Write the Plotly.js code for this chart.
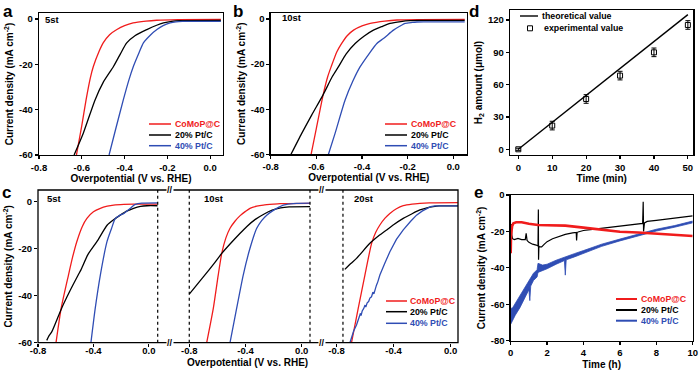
<!DOCTYPE html>
<html><head><meta charset="utf-8">
<script src="https://cdn.plot.ly/plotly-3.0.1.min.js"></script>
<style>html,body{margin:0;padding:0;background:#fff}#chart{width:700px;height:370px}</style>
</head><body><div id="chart"></div>
<script>
// ---------------- DATA ----------------
// Panel a (5st)
const aV_red = [-0.625,-0.60,-0.58,-0.56,-0.546,-0.52,-0.50,-0.47,-0.436,-0.40,-0.36,-0.30,-0.25,-0.15,0.05];
const aJ_red = [-60,-47,-35.7,-26,-21,-14.5,-10.6,-7,-4.7,-3,-1.8,-1.0,-0.6,-0.3,-0.2];
const aV_blk = [-0.636,-0.593,-0.538,-0.50,-0.452,-0.42,-0.39,-0.35,-0.296,-0.25,-0.218,-0.18,-0.14,0.05];
const aJ_blk = [-60,-50.4,-35.7,-28,-21,-15.5,-10.6,-7.3,-4.7,-2.8,-1.8,-1.1,-0.8,-0.7];
const aV_blu = [-0.4725,-0.44,-0.406,-0.38,-0.359,-0.335,-0.312,-0.28,-0.249,-0.22,-0.187,-0.16,-0.13,0.05];
const aJ_blu = [-60,-48,-35.7,-27,-21,-15.5,-10.6,-7.2,-4.7,-3,-1.8,-1.3,-1.1,-1.1];
// Panel b (10st)
const bV_red = [-0.623,-0.60,-0.57,-0.55,-0.535,-0.51,-0.489,-0.465,-0.437,-0.40,-0.364,-0.30,-0.247,-0.15,0.05];
const bJ_red = [-60,-48.5,-33.5,-25.5,-21.1,-14.5,-10.8,-7.4,-4.9,-3.0,-1.9,-0.9,-0.4,-0.2,-0.1];
const bV_blk = [-0.711,-0.664,-0.62,-0.57,-0.53,-0.503,-0.47,-0.43,-0.39,-0.35,-0.31,-0.277,-0.23,-0.189,-0.15,0.05];
const bJ_blk = [-60,-50.7,-42.5,-33.5,-25.5,-21.1,-15.5,-10.8,-7.5,-4.9,-3.2,-1.9,-1.1,-0.7,-0.6,-0.6];
const bV_blu = [-0.547,-0.518,-0.474,-0.44,-0.408,-0.37,-0.335,-0.306,-0.262,-0.235,-0.211,-0.18,-0.16,-0.13,0.05];
const bJ_blu = [-60,-50.7,-35.9,-27.5,-21.1,-15.5,-10.8,-8.6,-4.9,-3.2,-1.9,-1.5,-1.3,-1.2,-1.2];
// Panel c, segment 5st
const c1V_red = [-0.670,-0.633,-0.58,-0.55,-0.52,-0.48,-0.447,-0.40,-0.35,-0.30,-0.254,-0.18,-0.11,0.064];
const c1J_red = [-60,-45.4,-31.2,-23.5,-17,-10.5,-7.1,-4.3,-2.8,-1.9,-1.4,-1.1,-1.0,-1.0];
const c1V_blk = [-0.737,-0.72,-0.70,-0.63,-0.57,-0.51,-0.49,-0.44,-0.375,-0.30,-0.25,-0.206,-0.16,-0.11,-0.06,-0.013,0.064];
const c1J_blk = [-59,-57,-55.3,-45.4,-38,-31.2,-29,-22.5,-17,-9.9,-7.5,-5.7,-4.0,-2.8,-2.0,-1.7,-1.7];
const c1V_blu = [-0.418,-0.387,-0.35,-0.302,-0.27,-0.242,-0.21,-0.18,-0.155,-0.133,-0.115,-0.097,-0.05,0.064];
const c1J_blu = [-60,-45.4,-31.2,-17,-11.5,-7.1,-5.8,-5.0,-3.8,-2.8,-1.8,-1.1,-0.6,-0.5];
// Panel c, segment 10st
const c2V_red = [-0.676,-0.629,-0.594,-0.569,-0.54,-0.51,-0.475,-0.438,-0.40,-0.368,-0.32,-0.273,-0.20,-0.154,0.059];
const c2J_red = [-60,-45.4,-31.2,-22,-15.5,-11.3,-8.3,-5.9,-4.1,-2.8,-1.9,-1.4,-1.0,-0.8,-0.7];
const c2V_blk = [-0.8,-0.70,-0.62,-0.569,-0.51,-0.44,-0.39,-0.33,-0.27,-0.21,-0.15,-0.09,0.059];
const c2J_blk = [-39.3,-32,-26,-22,-18,-13.5,-10.5,-7.5,-5.3,-3.6,-2.6,-2.2,-2.1];
const c2V_blu = [-0.51,-0.463,-0.416,-0.368,-0.32,-0.285,-0.249,-0.21,-0.178,-0.131,-0.08,-0.036,0.059];
const c2J_blu = [-60,-45.4,-31.2,-19.8,-11.3,-8,-5.7,-4,-2.8,-1.4,-0.9,-0.7,-0.6];
// Panel c, segment 20st
const c3V_red = [-0.695,-0.648,-0.601,-0.554,-0.525,-0.496,-0.46,-0.426,-0.38,-0.332,-0.27,-0.215,-0.15,0.051];
const c3J_red = [-60,-45.4,-31.2,-17.7,-13,-9.9,-7,-4.96,-3.0,-1.7,-1.0,-0.7,-0.5,-0.4];
const c3V_blk = [-0.742,-0.70,-0.66,-0.566,-0.50,-0.449,-0.40,-0.332,-0.27,-0.215,-0.16,-0.122,-0.08,0.051];
const c3J_blk = [-28.8,-26.3,-24.1,-17.7,-14.3,-12,-9.8,-7.1,-5.1,-3.5,-2.5,-2.1,-1.8,-1.8];
const c3V_blu = [-0.706,-0.68,-0.66,-0.645,-0.632,-0.628,-0.62,-0.61,-0.60,-0.595,-0.585,-0.575,-0.566,-0.555,-0.545,-0.538,-0.53,-0.52,-0.51,-0.496,-0.46,-0.426,-0.38,-0.332,-0.28,-0.239,-0.20,-0.168,-0.14,-0.11,-0.06,0.051];
const c3J_blu = [-60,-55,-52.5,-50,-47.5,-48.5,-46.5,-45.5,-44,-44.8,-43,-42.5,-41,-40.5,-38.5,-39.2,-37,-35.5,-34,-31.2,-26,-21.3,-16,-12,-8.3,-5.7,-4.0,-2.8,-2.1,-1.8,-1.8,-1.8];
// Panel d
const dT_theo = [0,50];
const dH_theo = [0,125];
const dT_exp = [0,10,20,30,40,50];
const dH_exp = [0,22,46.7,68.4,90,115.4];
const dErr = [1,4,4,4,4,4];
// Panel e
const eT_red = [0,0.02,0.08,0.15,0.3,0.6,1.0,1.5,2,3,4,5,5.8,6,7,8,9,10];
const eJ_red = [-32,-22,-17,-15.5,-15,-15,-15.8,-16.5,-16.6,-16.8,-17.9,-18.9,-19.6,-20.2,-20.6,-21.3,-22,-22.5];
const eT_blk = [0,0.03,0.06,0.1,0.2,0.4,0.6,0.8,0.85,0.9,1.0,1.2,1.4,1.5,1.52,1.53,1.55,1.58,1.7,1.85,2.0,2.3,2.6,3.0,3.4,3.6,3.62,3.65,3.7,4.0,4.5,5,5.5,6,6.5,7,7.25,7.28,7.3,7.35,7.5,8,8.5,9,9.5,10];
const eJ_blk = [-20,-16,-22,-24,-24.5,-23.8,-24.5,-24.5,-21,-25,-26,-27,-27.5,-28,-8,-35.5,-28,-28.5,-28.5,-27,-25.6,-24,-22.8,-21.6,-20.8,-20.5,-25,-20.4,-20.3,-19.5,-18.9,-18.3,-17.9,-17.4,-16.8,-16.1,-15.6,-3.7,-20,-15.3,-14.5,-13.9,-13.4,-12.9,-12.3,-11.5];
const eT_blu = [0,0.05,0.1,0.25,0.5,0.75,1.0,1.05,1.1,1.25,1.45,1.5,1.75,2.0,2.5,2.95,3.0,3.05,3.5,4,5,6,7,8,9,10];
const eJ_bluHi = [-63,-62,-62,-59.5,-56,-51.5,-47,-46.5,-46,-43,-41,-37.5,-38.5,-38,-35.8,-34,-33.8,-33.6,-32.2,-30.5,-27,-24.2,-21.5,-18.8,-16.8,-14.3];
const eJ_bluLo = [-71,-70,-69,-66,-62,-57,-52,-58,-50,-47,-45,-42.5,-41.5,-40.5,-38,-36,-44,-35.6,-34,-32,-28.2,-25.2,-22.5,-19.8,-17.7,-15.3];
// Tick labels
const vTicks6 = [-0.8,-0.6,-0.4,-0.2,0.0];
const vLabels6 = ['-0.8','-0.6','-0.4','-0.2','0.0'];
const vTicks3 = [-0.8,-0.4,0.0];
const vLabels3 = ['-0.8','-0.4','0.0'];
const jTicks = [0,-20,-40,-60];
const jLabels = ['0','-20','-40','-60'];
const dXTicks = [0,10,20,30,40,50];
const dYTicks = [0,30,60,90,120];
const eXTicks = [0,2,4,6,8,10];
const eYTicks = [0,-20,-40,-60,-80];
const eYLabels = ['0','-20','-40','-60','-80'];
const seriesNames = ['CoMoP@C','20% Pt/C','40% Pt/C'];
const dNames = ['theoretical value','experimental value'];

// ---------------- STYLE ----------------
const FONT = 'Liberation Sans, Arial, sans-serif';
const RED = '#f01c1c', BLK = '#000000', BLU = '#2f4db4';
const COLORS = [RED, BLK, BLU];
const W = 700, H = 370;
const X = p => p / W;
const Y = p => 1 - p / H;
const TF = {family: FONT, size: 9.5, color: '#000', weight: 'bold'};
const TITLEF = {family: FONT, size: 10, color: '#000', weight: 'bold'};

function axis(o) {
  const base = {
    showline: true, mirror: true, linecolor: '#000', linewidth: 1.3,
    ticks: 'outside', ticklen: 3, tickwidth: 1.2, tickcolor: '#000',
    showgrid: false, zeroline: false, tickfont: TF, fixedrange: true,
    minor: {ticks: 'outside', ticklen: 2, tickwidth: 1, tickcolor: '#000'}
  };
  const r = Object.assign(base, o);
  if (o.minor) r.minor = Object.assign(base.minor, o.minor);
  return r;
}
function ln(x, y, xa, ya, color, width, smooth) {
  const line = {color: color, width: width || 1.3};
  if (smooth) { line.shape = 'spline'; line.smoothing = smooth; }
  return {x: x, y: y, xaxis: xa, yaxis: ya, type: 'scatter', mode: 'lines', line: line, hoverinfo: 'skip'};
}
const S = 0.6;

const traces = [
  ln(aV_red, aJ_red, 'x', 'y', RED, 1.3, S), ln(aV_blk, aJ_blk, 'x', 'y', BLK, 1.3, S), ln(aV_blu, aJ_blu, 'x', 'y', BLU, 1.3, S),
  ln(bV_red, bJ_red, 'x2', 'y2', RED, 1.3, S), ln(bV_blk, bJ_blk, 'x2', 'y2', BLK, 1.3, S), ln(bV_blu, bJ_blu, 'x2', 'y2', BLU, 1.3, S),
  ln(c1V_red, c1J_red, 'x3', 'y3', RED, 1.3, S), ln(c1V_blk, c1J_blk, 'x3', 'y3', BLK, 1.3, S), ln(c1V_blu, c1J_blu, 'x3', 'y3', BLU, 1.3, S),
  ln(c2V_red, c2J_red, 'x4', 'y4', RED, 1.3, S), ln(c2V_blk, c2J_blk, 'x4', 'y4', BLK, 1.3, S), ln(c2V_blu, c2J_blu, 'x4', 'y4', BLU, 1.3, S),
  ln(c3V_red, c3J_red, 'x5', 'y5', RED, 1.3, S), ln(c3V_blk, c3J_blk, 'x5', 'y5', BLK, 1.3, S), ln(c3V_blu, c3J_blu, 'x5', 'y5', BLU, 1.3),
  ln(dT_theo, dH_theo, 'x6', 'y6', BLK, 1.4),
  {x: dT_exp, y: dH_exp, xaxis: 'x6', yaxis: 'y6', type: 'scatter', mode: 'markers',
   marker: {symbol: 'square-open', size: 5, color: '#000', line: {width: 1, color: '#000'}},
   error_y: {type: 'data', array: dErr, visible: true, color: '#000', thickness: 1, width: 2.5}, hoverinfo: 'skip'},
  ln(eT_blu, eJ_bluLo, 'x7', 'y7', BLU, 0.8),
  Object.assign(ln(eT_blu, eJ_bluHi, 'x7', 'y7', BLU, 0.8), {fill: 'tonexty', fillcolor: BLU}),
  ln(eT_blk, eJ_blk, 'x7', 'y7', BLK, 1.2),
  ln(eT_red, eJ_red, 'x7', 'y7', RED, 2.6)
];

const jTitle = 'Current density (mA cm<sup>-2</sup>)';
const yC = [Y(342.7), Y(190)];

const layout = {
  width: W, height: H, margin: {l: 0, r: 0, t: 0, b: 0},
  paper_bgcolor: '#fff', plot_bgcolor: '#fff', showlegend: false,
  font: {family: FONT, color: '#000'},
  // a
  xaxis: axis({domain: [X(39), X(223)], range: [-0.8, 0.06], anchor: 'y',
    tickmode: 'array', tickvals: vTicks6, ticktext: vLabels6, minor: {dtick: 0.1, tick0: 0},
    title: {text: 'Overpotential (V vs. RHE)', font: TITLEF, standoff: 3}}),
  yaxis: axis({domain: [Y(155), Y(13)], range: [-60, 2.6], anchor: 'x',
    tickmode: 'array', tickvals: jTicks, ticktext: jLabels, minor: {dtick: 10, tick0: 0},
    title: {text: jTitle, font: TITLEF, standoff: 3}}),
  // b
  xaxis2: axis({domain: [X(270.7), X(467)], range: [-0.8, 0.06], anchor: 'y2',
    tickmode: 'array', tickvals: vTicks6, ticktext: vLabels6, minor: {dtick: 0.1, tick0: 0},
    title: {text: 'Overpotential (V vs. RHE)', font: TITLEF, standoff: 3}}),
  yaxis2: axis({domain: [Y(154.3), Y(13)], range: [-60, 2.7], anchor: 'x2',
    tickmode: 'array', tickvals: jTicks, ticktext: jLabels, minor: {dtick: 10, tick0: 0},
    title: {text: jTitle, font: TITLEF, standoff: 3}}),
  // c (broken axis: three segments)
  xaxis3: axis({domain: [X(38), X(157.7)], range: [-0.8, 0.064], anchor: 'y3', showline: false, mirror: false,
    ticklabelstandoff: -4,
    tickmode: 'array', tickvals: vTicks3, ticktext: vLabels3, minor: {dtick: 0.2, tick0: 0}}),
  xaxis4: axis({domain: [X(171), X(310)], range: [-0.93, 0.059], anchor: 'y4', showline: false, mirror: false,
    ticklabelstandoff: -4,
    tickmode: 'array', tickvals: vTicks3, ticktext: vLabels3, minor: {dtick: 0.2, tick0: 0}}),
  xaxis5: axis({domain: [X(323), X(458)], range: [-0.895, 0.052], anchor: 'y5', showline: false, mirror: false,
    ticklabelstandoff: -4,
    tickmode: 'array', tickvals: vTicks3, ticktext: vLabels3, minor: {dtick: 0.2, tick0: 0}}),
  yaxis3: axis({domain: yC, range: [-60, 5], anchor: 'x3', showline: false, mirror: false,
    tickmode: 'array', tickvals: jTicks, ticktext: jLabels, minor: {dtick: 10, tick0: 0},
    title: {text: jTitle, font: TITLEF, standoff: 3}}),
  yaxis4: {domain: yC, range: [-60, 5], anchor: 'x4', visible: false, fixedrange: true},
  yaxis5: {domain: yC, range: [-60, 5], anchor: 'x5', visible: false, fixedrange: true},
  // d
  xaxis6: axis({domain: [X(510), X(693.3)], range: [-2.45, 51.6], anchor: 'y6',
    tickmode: 'array', tickvals: dXTicks, minor: {dtick: 5, tick0: 0},
    title: {text: 'Time (min)', font: TITLEF, standoff: 3}}),
  yaxis6: axis({domain: [Y(155), Y(10)], range: [-5.3, 129.3], anchor: 'x6',
    tickmode: 'array', tickvals: dYTicks, minor: {dtick: 15, tick0: 0},
    title: {text: 'H<sub>2</sub> amount (μmol)', font: TITLEF, standoff: 3}}),
  // e
  xaxis7: axis({domain: [X(510.7), X(692.7)], range: [0, 10], anchor: 'y7',
    tickmode: 'array', tickvals: eXTicks, minor: {dtick: 1, tick0: 0},
    title: {text: 'Time (h)', font: TITLEF, standoff: 3}}),
  yaxis7: axis({domain: [Y(340.7), Y(195)], range: [-80, 0], anchor: 'x7',
    tickmode: 'array', tickvals: eYTicks, ticktext: eYLabels, minor: {dtick: 10, tick0: 0},
    title: {text: jTitle, font: TITLEF, standoff: 3}}),
  shapes: [],
  annotations: []
};

// Panel c frame and dotted separators
layout.shapes.push({type: 'rect', xref: 'paper', yref: 'paper', x0: X(38), x1: X(458), y0: yC[0], y1: yC[1],
  line: {color: '#000', width: 1.3}, layer: 'above'});
const dotted = [['x3 domain', 1], ['x4', -0.8], ['x4 domain', 1], ['x5', -0.755]];
dotted.forEach(d => layout.shapes.push({type: 'line', xref: d[0], yref: 'y3 domain', x0: d[1], x1: d[1], y0: 0, y1: 1,
  line: {color: '#000', width: 1.2, dash: 'dot'}}));
// break marks
[170, 322].forEach(px => [342.7, 190].forEach(py => layout.annotations.push({
  text: '//', xref: 'paper', yref: 'paper', x: X(px), y: Y(py), showarrow: false,
  xanchor: 'center', yanchor: 'middle', bgcolor: '#fff', borderpad: 0,
  font: {family: FONT, size: 9, weight: 'bold', color: '#000'}})));
// c x-title
layout.annotations.push({text: 'Overpotential (V vs. RHE)', xref: 'paper', yref: 'paper', x: X(247.5), y: Y(362.5),
  showarrow: false, xanchor: 'center', yanchor: 'middle', font: TITLEF});

// Panel letters and labels
function txt(t, px, py, size, opts) {
  layout.annotations.push(Object.assign({text: t, xref: 'paper', yref: 'paper', x: X(px), y: Y(py),
    showarrow: false, xanchor: 'left', yanchor: 'middle',
    font: {family: FONT, size: size, weight: 'bold', color: '#000'}}, opts || {}));
}
const TOPA = {yanchor: 'top'};
txt('a', 1, 0, 17, TOPA); txt('b', 231, 0, 17, TOPA); txt('d', 467, 0, 17, TOPA);
txt('c', 0, 181, 17, TOPA); txt('e', 472, 181, 17, TOPA);
txt('5st', 43, 19.5, 9.5); txt('10st', 280, 18, 9.5);
txt('5st', 45, 199, 9.5); txt('10st', 202, 199, 9.5); txt('20st', 352, 199, 9.5);

// Manual legends (compact Origin style)
function legend3(x0, x1, xt, rows, lw) {
  seriesNames.forEach((n, i) => {
    layout.shapes.push({type: 'line', xref: 'paper', yref: 'paper', x0: X(x0), x1: X(x1), y0: Y(rows[i]), y1: Y(rows[i]),
      line: {color: COLORS[i], width: lw}});
    txt(n, xt, rows[i], 8.8, {font: {family: FONT, size: 8.8, weight: 'bold', color: COLORS[i]}});
  });
}
legend3(149, 171, 173, [124, 135, 145.7], 1.5);
legend3(385, 407, 409, [124, 135, 145.7], 1.5);
legend3(386, 407, 408.5, [301, 311.7, 323.3], 1.5);
legend3(616, 637, 638.5, [299, 310, 320.7], 2);
// panel d legend
layout.shapes.push({type: 'line', xref: 'paper', yref: 'paper', x0: X(520), x1: X(538), y0: Y(16), y1: Y(16),
  line: {color: '#000', width: 1.4}});
layout.shapes.push({type: 'rect', xref: 'paper', yref: 'paper', x0: X(527.5), x1: X(532.5), y0: Y(30.8), y1: Y(25.8),
  line: {color: '#000', width: 1}});
txt(dNames[0], 540, 16, 8.8);
txt(dNames[1], 542, 28.3, 8.8);

Plotly.newPlot('chart', traces, layout, {displayModeBar: false, staticPlot: true});
</script></body></html>
